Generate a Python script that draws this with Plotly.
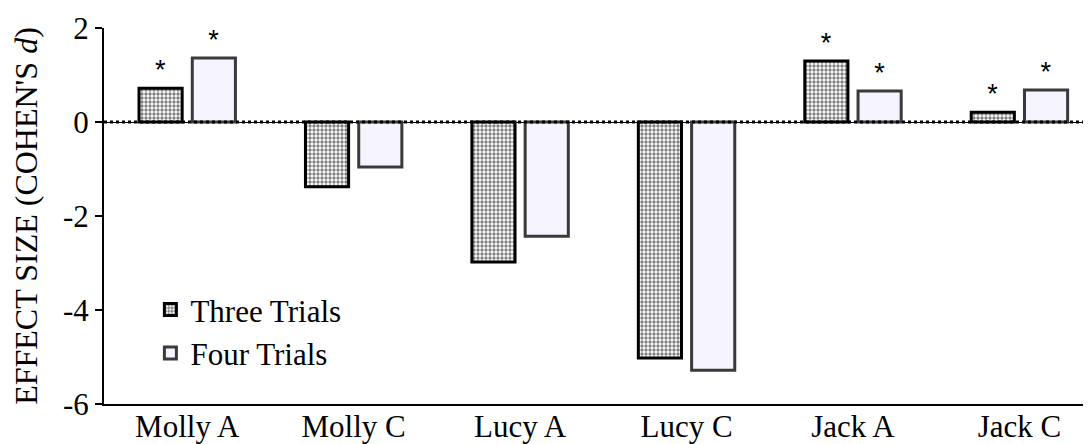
import plotly.graph_objects as go

categories = ["Molly A", "Molly C", "Lucy A", "Lucy C", "Jack A", "Jack C"]
three_trials = [0.72, -1.38, -2.98, -5.02, 1.30, 0.21]
four_trials = [1.36, -0.96, -2.43, -5.28, 0.66, 0.68]
three_sig = ["*", "", "", "", "*", "*"]
four_sig = ["*", "", "", "", "*", "*"]
y_ticks = [2, 0, -2, -4, -6]

fig = go.Figure()
fig.add_trace(go.Bar(
    x=categories, y=three_trials, name="Three Trials",
    text=three_sig, textposition="outside", cliponaxis=False,
    textfont=dict(family="Liberation Sans", size=27, color="black"),
    marker=dict(color="white", line=dict(color="black", width=3),
                pattern=dict(shape=".", size=4, solidity=0.55, fgcolor="black", bgcolor="white")),
))
fig.add_trace(go.Bar(
    x=categories, y=four_trials, name="Four Trials",
    text=four_sig, textposition="outside", cliponaxis=False,
    textfont=dict(family="Liberation Sans", size=27, color="black"),
    marker=dict(color="#F6F5FF", line=dict(color="#3a3a3a", width=3)),
))

fig.add_shape(type="line", xref="paper", x0=0, x1=1, yref="y", y0=0, y1=0,
              line=dict(color="black", width=3, dash="dot"), layer="above")

# the page body adds an 8px offset, so the figure is 8px smaller on each axis
fig.update_layout(
    width=1083, height=436,
    margin=dict(l=96, r=0, t=20, b=40),
    plot_bgcolor="white", paper_bgcolor="white",
    barmode="group", bargap=0.36, bargroupgap=0.19,
    font=dict(family="Liberation Serif", size=31, color="black"),
    showlegend=True,
    legend=dict(x=0.047, y=0.322, xanchor="left", yanchor="top",
                font=dict(family="Liberation Serif", size=31),
                bgcolor="rgba(0,0,0,0)"),
)
fig.update_xaxes(range=[-0.5, 5.43], showline=True, linecolor="black", linewidth=2,
                 ticks="", showgrid=False, tickfont=dict(size=31), automargin=False,
                 ticklabelstandoff=-6)
fig.update_yaxes(range=[-6, 2], tickvals=y_ticks, ticktext=[str(v) for v in y_ticks],
                 showline=True, linecolor="black", linewidth=2,
                 ticks="outside", ticklen=7, tickwidth=2, tickcolor="black",
                 showgrid=False, zeroline=True, zerolinecolor="black", zerolinewidth=1,
                 tickfont=dict(size=31), automargin=False,
                 title=dict(text="EFFECT SIZE (COHEN'S <i>d</i>)", font=dict(size=32), standoff=16))

fig.write_html("out.html")
